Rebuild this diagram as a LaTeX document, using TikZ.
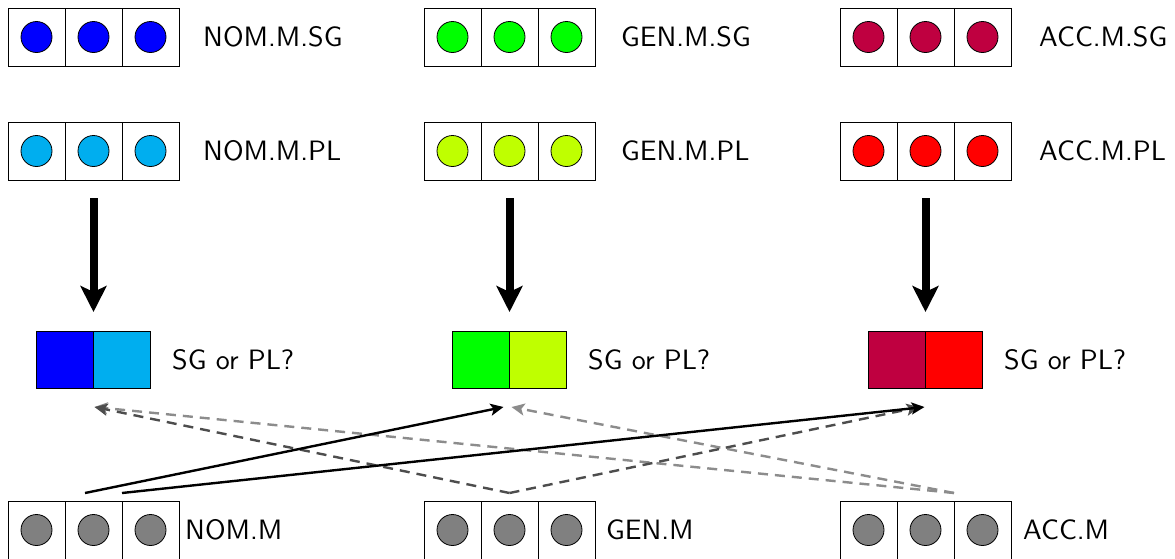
\documentclass[tikz,border=0pt]{standalone}
\usepackage{fontspec}
\newfontfamily\lblfont{lmsans10-regular.otf}
\usetikzlibrary{arrows.meta}
\definecolor{cBlue}{RGB}{0,0,255}
\definecolor{cLBlue}{RGB}{0,174,239}
\definecolor{cGreen}{RGB}{0,255,0}
\definecolor{cLime}{RGB}{191,255,0}
\definecolor{cCrimson}{RGB}{191,0,64}
\definecolor{cRed}{RGB}{255,0,0}
\definecolor{cGray}{RGB}{128,128,128}
\definecolor{dashDark}{RGB}{77,77,77}
\definecolor{dashLight}{RGB}{140,140,140}
\tikzset{
  cell/.style={draw, line width=0.9pt, minimum width=57pt, minimum height=58pt, inner sep=0pt, outer sep=0pt},
  dot/.style={circle, draw, line width=0.8pt, minimum size=31pt, inner sep=0pt},
  lbl/.style={anchor=west, inner sep=0pt, font=\lblfont\fontsize{28}{34}\selectfont},
  barcell/.style={draw, line width=0.9pt, minimum width=57pt, minimum height=57pt, inner sep=0pt, outer sep=0pt},
  bigarrow/.style={line width=8pt, -{Stealth[length=26pt,width=26pt,inset=6pt]}},
  conn/.style={line width=2.4pt, -{Stealth[length=13pt,width=12pt,inset=3pt]}},
  solidconn/.style={conn, black},
  darkconn/.style={conn, dashDark, dash pattern=on 10pt off 7pt},
  lightconn/.style={conn, dashLight, dash pattern=on 10pt off 7pt},
}
\newcommand\threecells[4]{%
  \foreach \i in {1,2,3} {
    \node[cell] (#1\i) at ({#2+57*\i-28.5},#3) {};
    \node[dot, fill=#4] (#1d\i) at (#1\i.center) {};
  }}
\begin{document}
\begin{tikzpicture}[x=1pt,y=-1pt]
\useasboundingbox[fill=white] (0,0) rectangle (1175,558);
% singular row
\threecells{nsg}{8}{37}{cBlue}
\threecells{gsg}{424}{37}{cGreen}
\threecells{asg}{840}{37}{cCrimson}
\node[lbl] (nsgl) at (203,37) {NOM.M.SG};
\node[lbl] (gsgl) at (621,37) {GEN.M.SG};
\node[lbl] (asgl) at (1039,37) {ACC.M.SG};
% plural row
\threecells{npl}{8}{151}{cLBlue}
\threecells{gpl}{424}{151}{cLime}
\threecells{apl}{840}{151}{cRed}
\node[lbl] (npll) at (203,151) {NOM.M.PL};
\node[lbl] (gpll) at (621,151) {GEN.M.PL};
\node[lbl] (apll) at (1039,151) {ACC.M.PL};
% bars
\node[barcell, fill=cBlue] (nbarA) at (65,359.5) {};
\node[barcell, fill=cLBlue] (nbarB) at (122,359.5) {};
\node[barcell, fill=cGreen] (gbarA) at (481,359.5) {};
\node[barcell, fill=cLime] (gbarB) at (538,359.5) {};
\node[barcell, fill=cCrimson] (abarA) at (897,359.5) {};
\node[barcell, fill=cRed] (abarB) at (954,359.5) {};
\node[lbl] (nq) at (172,360) {SG or PL?};
\node[lbl] (gq) at (588,360) {SG or PL?};
\node[lbl] (aq) at (1004,360) {SG or PL?};
% big arrows
\draw[bigarrow] ([yshift=-18pt]npl2.south) -- ([yshift=19pt]nbarA.north east);
\draw[bigarrow] ([yshift=-18pt]gpl2.south) -- ([yshift=19pt]gbarA.north east);
\draw[bigarrow] ([yshift=-18pt]apl2.south) -- ([yshift=19pt]abarA.north east);
% bottom row
\threecells{nb}{8}{530}{cGray}
\threecells{gb}{424}{530}{cGray}
\threecells{ab}{840}{530}{cGray}
\node[lbl] (nbl) at (185,530) {NOM.M};
\node[lbl] (gbl) at (606,530) {GEN.M};
\node[lbl] (abl) at (1023,530) {ACC.M};
% connector start points
\coordinate (sN1) at ([xshift=-8.5pt,yshift=8pt]nb2.north);
\coordinate (sN2) at ([xshift=28.5pt,yshift=8pt]nb2.north);
\coordinate (sG) at ([yshift=8pt]gb2.north);
\coordinate (sA) at ([xshift=28.5pt,yshift=8pt]ab2.north);
% connectors
\draw[lightconn] (sA) -- ([xshift=1pt,yshift=-19pt]nbarA.south east);
\draw[lightconn] (sA) -- ([xshift=2pt,yshift=-19pt]gbarA.south east);
\draw[darkconn] (sG) -- ([xshift=1pt,yshift=-19pt]nbarA.south east);
\draw[darkconn] (sG) -- ([xshift=-6pt,yshift=-19pt]abarA.south east);
\draw[solidconn] (sN1) -- ([xshift=-6pt,yshift=-19pt]gbarA.south east);
\draw[solidconn] (sN2) -- ([xshift=-1pt,yshift=-19pt]abarA.south east);
\end{tikzpicture}
\end{document}
